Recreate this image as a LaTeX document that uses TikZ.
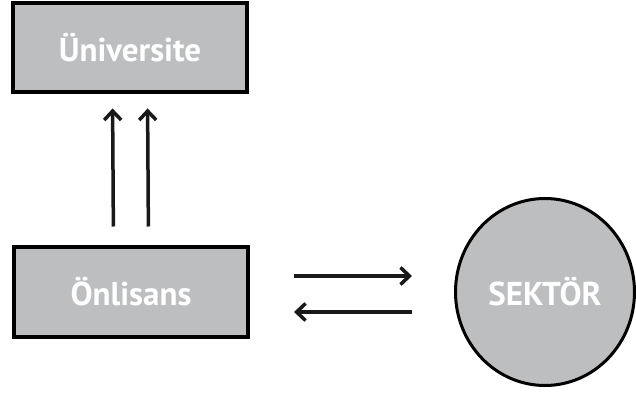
\documentclass[tikz,border=0pt]{standalone}
\usepackage{fontspec}
\setmainfont{PT Sans}
\usepackage{tikz}
\usetikzlibrary{shapes.geometric}
\usetikzlibrary{arrows.meta}
\definecolor{boxgray}{RGB}{188,190,192}
\newcommand{\yazi}{\bfseries\fontsize{33}{38}\selectfont}
\tikzset{
	kutu/.style={draw, line width=4pt, fill=boxgray, minimum width=234pt, minimum height=89pt, text=white, font=\yazi},
	daire/.style={ellipse, draw, line width=3pt, fill=boxgray, minimum width=179pt, minimum height=187pt, text=white, font=\yazi},
	ok/.style={-{Straight Barb[length=9pt, width=17pt, line width=3.5pt]}, line width=3.5pt, black!90}
}
\begin{document}
\begin{tikzpicture}[x=1pt, y=1pt]
		\useasboundingbox[fill=white] (0,0) rectangle (636,396);
		\node[kutu] (univ) at (130,348) {Üniversite};
		\node[kutu] (onlisans) at (131,104) {Önlisans};
		\node[daire] (sektor) at (545,104) {SEKTÖR};
		\draw[ok, shorten <=19pt, shorten >=14pt] ([xshift=-17.5pt]onlisans.north) -- ([xshift=-17.5pt]univ.south);
		\draw[ok, shorten <=19pt, shorten >=14pt] ([xshift=17.5pt]onlisans.north) -- ([xshift=17.5pt]univ.south);
		\draw[ok, shorten <=44pt, shorten >=42pt] ([yshift=16pt]onlisans.east) -- ([yshift=16pt]sektor.west);
		\draw[ok, shorten <=42pt, shorten >=44pt] ([yshift=-20pt]sektor.west) -- ([yshift=-20pt]onlisans.east);
	\end{tikzpicture}
\end{document}
